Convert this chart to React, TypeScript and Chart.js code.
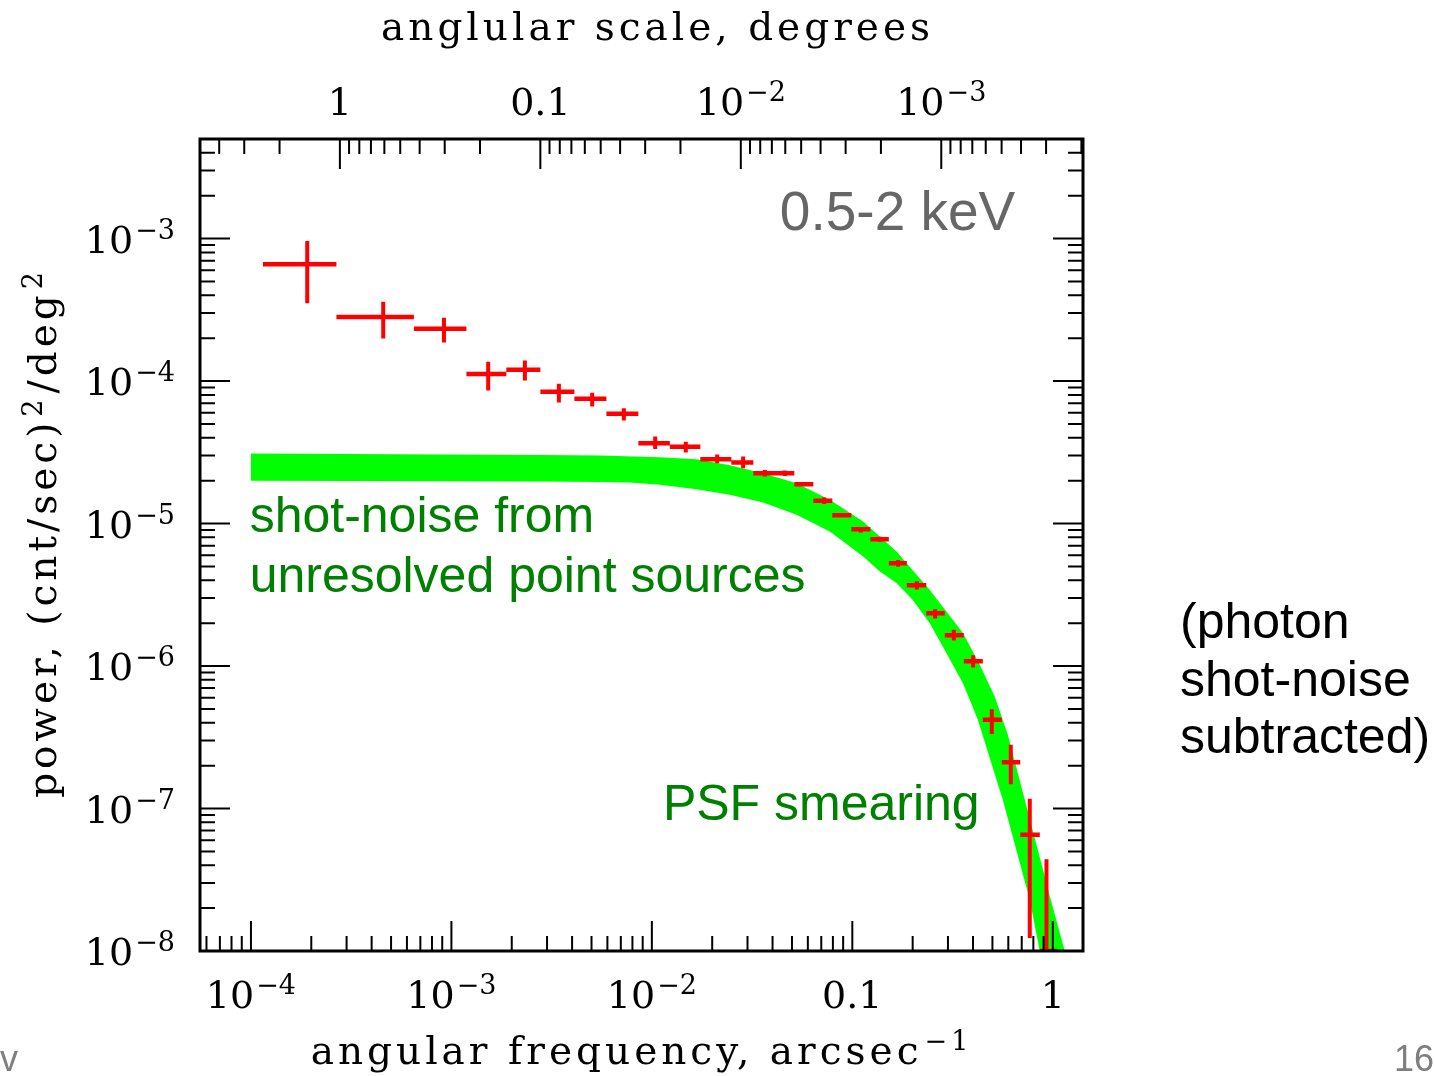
import { useEffect, useRef } from 'react';
import { Chart, registerables } from 'chart.js';

Chart.register(...registerables);

// ---------- data ----------
// angular frequency bins, arcsec^-1
const binLow = [1.148e-4, 2.669e-4, 6.5e-4, 1.188e-3, 1.88e-3, 2.779e-3, 4.106e-3, 5.932e-3, 8.563e-3, 1.23e-2, 1.745e-2, 2.491e-2, 3.208e-2, 4.06e-2, 5.136e-2, 6.389e-2, 7.948e-2, 9.886e-2, 0.123, 0.1521, 0.187, 0.2338, 0.2892, 0.3598, 0.4476, 0.5567, 0.6884, 0.8615];
const binHigh = [2.669e-4, 6.5e-4, 1.188e-3, 1.88e-3, 2.779e-3, 4.106e-3, 5.932e-3, 8.563e-3, 1.23e-2, 1.745e-2, 2.491e-2, 3.208e-2, 4.06e-2, 5.136e-2, 6.389e-2, 7.948e-2, 9.886e-2, 0.123, 0.1521, 0.187, 0.2338, 0.2892, 0.3598, 0.4476, 0.5567, 0.6884, 0.8615, 1.047];
const freq = [1.909e-4, 4.57e-4, 9.18e-4, 1.526e-3, 2.326e-3, 3.437e-3, 5.038e-3, 7.25e-3, 1.039e-2, 1.477e-2, 2.117e-2, 2.853e-2, 3.662e-2, 4.607e-2, 5.728e-2, 7.235e-2, 8.862e-2, 0.1103, 0.1372, 0.1692, 0.2098, 0.2588, 0.3208, 0.4004, 0.4964, 0.6173, 0.7677, 0.9302];
// power, (cnt/sec)^2/deg^2
const power = [6.61e-4, 2.822e-4, 2.325e-4, 1.123e-4, 1.199e-4, 8.4e-5, 7.5e-5, 5.89e-5, 3.666e-5, 3.453e-5, 2.83e-5, 2.68e-5, 2.258e-5, 2.258e-5, 1.89e-5, 1.443e-5, 1.145e-5, 9.13e-6, 7.77e-6, 5.27e-6, 3.695e-6, 2.35e-6, 1.647e-6, 1.082e-6, 4.19e-7, 2.116e-7, 6.54e-8, 1.0e-8];
const powerHigh = [9.63e-4, 3.61e-4, 2.777e-4, 1.364e-4, 1.393e-4, 9.56e-5, 8.27e-5, 6.45e-5, 4.08e-5, 3.745e-5, 3.05e-5, 2.95e-5, 2.38e-5, 2.36e-5, 1.946e-5, 1.522e-5, 1.179e-5, 9.43e-6, 8.07e-6, 5.56e-6, 3.93e-6, 2.507e-6, 1.795e-6, 1.192e-6, 4.98e-7, 2.8e-7, 1.17e-7, 4.41e-8];
const powerLow = [3.52e-4, 1.987e-4, 1.863e-4, 8.58e-5, 1.008e-4, 7.07e-5, 6.63e-5, 5.28e-5, 3.33e-5, 3.15e-5, 2.65e-5, 2.447e-5, 2.137e-5, 2.16e-5, 1.84e-5, 1.374e-5, 1.114e-5, 8.64e-6, 7.44e-6, 4.97e-6, 3.45e-6, 2.154e-6, 1.51e-6, 9.76e-7, 3.34e-7, 1.483e-7, 1.232e-8, 1.0e-8];

// shot-noise + PSF model band (upper and lower edges)
const bandUpperFreq = [1e-4, 2.763e-3, 5.502e-3, 1.096e-2, 1.671e-2, 2.449e-2, 3.59e-2, 5.268e-2, 7.72e-2, 0.1132, 0.1661, 0.2434, 0.3557, 0.4325, 0.5138, 0.5966, 0.725, 0.8418, 0.9772, 1.148];
const bandUpperPower = [3.1e-5, 3.034e-5, 3.0e-5, 2.914e-5, 2.831e-5, 2.561e-5, 2.258e-5, 1.92e-5, 1.467e-5, 1.033e-5, 6.36e-6, 3.42e-6, 1.71e-6, 1.019e-6, 6.08e-7, 3.29e-7, 1.151e-7, 5.13e-8, 2.29e-8, 1.0e-8];
const bandLowerFreq = [1e-4, 2.763e-3, 5.502e-3, 7.77e-3, 1.096e-2, 1.671e-2, 2.449e-2, 3.59e-2, 5.268e-2, 7.72e-2, 0.1132, 0.1372, 0.1661, 0.2002, 0.2434, 0.295, 0.3557, 0.3855, 0.4227, 0.563, 0.7677, 0.861];
const bandLowerPower = [2.0e-5, 1.977e-5, 1.955e-5, 1.94e-5, 1.869e-5, 1.744e-5, 1.59e-5, 1.404e-5, 1.151e-5, 8.79e-6, 5.87e-6, 4.6e-6, 3.82e-6, 2.91e-6, 2.0e-6, 1.232e-6, 7.59e-7, 5.79e-7, 4.19e-7, 1.151e-7, 2.29e-8, 1.0e-8];

// ticks (^{...} marks a superscript)
const xTickValues = [1e-4, 1e-3, 1e-2, 0.1, 1];
const xTickLabels = ['10^{−4}', '10^{−3}', '10^{−2}', '0.1', '1'];
const yTickValues = [1e-3, 1e-4, 1e-5, 1e-6, 1e-7, 1e-8];
const yTickLabels = ['10^{−3}', '10^{−4}', '10^{−5}', '10^{−6}', '10^{−7}', '10^{−8}'];
const degTickValues = [1, 0.1, 0.01, 0.001];
const degTickLabels = ['1', '0.1', '10^{−2}', '10^{−3}'];

// axis titles
const xTitle = 'angular frequency, arcsec^{−1}';
const topTitle = 'anglular scale, degrees';
const yTitle = 'power, (cnt/sec)^{2}/deg^{2}';

// axis ranges
const X_MIN = 5.57e-5;
const X_MAX = 1.415;
const Y_MIN = 1e-8;
const Y_MAX = 5.0e-3;
const ARCSEC_PER_DEG = 3600;

// annotation anchors (data coordinates)
const energyLabel = { text: '0.5-2 keV', x: 0.0435, y: 1.14e-3 };
const shotLabel = { lines: ['shot-noise from', 'unresolved point sources'], x: 9.85e-5, y: 8.79e-6 };
const psfLabel = { text: 'PSF smearing', x: 1.135e-2, y: 8.33e-8 };
const sideNote = ['(photon', 'shot-noise', 'subtracted)'];

// ---------- layout / style ----------
const W = 1434;
const H = 1076;
const SERIF = '"DejaVu Serif", serif';
const SANS = '"Liberation Sans", Arial, sans-serif';

function labelFor(values: number[], labels: string[], v: number) {
  const i = values.findIndex((t) => Math.abs(Math.log10(t) - Math.log10(v)) < 1e-6);
  return i >= 0 ? labels[i] : '';
}

function parseRich(s: string) {
  const parts: { t: string; sup: boolean }[] = [];
  const re = /\^\{([^}]*)\}/g;
  let last = 0;
  let m: RegExpExecArray | null;
  while ((m = re.exec(s))) {
    if (m.index > last) parts.push({ t: s.slice(last, m.index), sup: false });
    parts.push({ t: m[1], sup: true });
    last = m.index + m[0].length;
  }
  if (last < s.length) parts.push({ t: s.slice(last), sup: false });
  return parts;
}

// draws text with superscripts; y is the baseline
function drawRich(ctx: CanvasRenderingContext2D, s: string, x: number, y: number, align: 'left' | 'center' | 'right', size: number, spacing = 0) {
  const parts = parseRich(s);
  const supSize = Math.round(size * 0.7);
  const raise = size * 0.36;
  (ctx as any).letterSpacing = `${spacing}px`;
  const widths = parts.map((p) => {
    ctx.font = `${p.sup ? supSize : size}px ${SERIF}`;
    return ctx.measureText(p.t).width;
  });
  const gap = 2;
  const total = widths.reduce((a, b) => a + b, 0) + gap * (parts.length - 1);
  let cx = align === 'left' ? x : align === 'center' ? x - total / 2 : x - total;
  ctx.textAlign = 'left';
  ctx.textBaseline = 'alphabetic';
  parts.forEach((p, i) => {
    ctx.font = `${p.sup ? supSize : size}px ${SERIF}`;
    ctx.fillText(p.t, cx, p.sup ? y - raise : y);
    cx += widths[i] + gap;
  });
  (ctx as any).letterSpacing = '0px';
}

const decorPlugin = {
  id: 'decor',
  afterDatasetsDraw(chart: any) {
    const { ctx, chartArea: a, scales } = chart;
    const xs = scales.x;
    const ys = scales.y;
    const ts = scales.x2;
    const MAJOR = 30;
    const MINOR = 15;
    ctx.save();
    ctx.strokeStyle = '#000';
    ctx.lineWidth = 2;
    ctx.lineCap = 'butt';
    ctx.beginPath();
    for (let n = -10; n <= 0; n++) {
      for (let k = 1; k <= 9; k++) {
        const v = k * Math.pow(10, n);
        const py = ys.getPixelForValue(v);
        if (py < a.top + 1.5 || py > a.bottom - 1.5) continue;
        const len = k === 1 ? MAJOR : MINOR;
        ctx.moveTo(a.left, py);
        ctx.lineTo(a.left + len, py);
        ctx.moveTo(a.right, py);
        ctx.lineTo(a.right - len, py);
      }
    }
    for (let n = -6; n <= 1; n++) {
      for (let k = 1; k <= 9; k++) {
        const v = k * Math.pow(10, n);
        const px = xs.getPixelForValue(v);
        if (px < a.left + 1.5 || px > a.right - 1.5) continue;
        const len = k === 1 ? MAJOR : MINOR;
        ctx.moveTo(px, a.bottom);
        ctx.lineTo(px, a.bottom - len);
      }
    }
    for (let n = -5; n <= 1; n++) {
      for (let k = 1; k <= 9; k++) {
        const v = k * Math.pow(10, n);
        const px = ts.getPixelForValue(v);
        if (px < a.left + 1.5 || px > a.right - 1.5) continue;
        const len = k === 1 ? MAJOR : MINOR;
        ctx.moveTo(px, a.top);
        ctx.lineTo(px, a.top + len);
      }
    }
    ctx.stroke();
    ctx.lineWidth = 3;
    ctx.strokeRect(a.left, a.top, a.right - a.left, a.bottom - a.top);
    ctx.restore();
  },
  afterDraw(chart: any) {
    const { ctx, chartArea: a, scales } = chart;
    const xs = scales.x;
    const ys = scales.y;
    const ts = scales.x2;
    ctx.save();
    ctx.fillStyle = '#000';

    // tick labels, positioned by the scales
    const TICK = 38;
    xs.ticks.forEach((t: any) => drawRich(ctx, labelFor(xTickValues, xTickLabels, t.value), xs.getPixelForValue(t.value), a.bottom + 57, 'center', TICK));
    ts.ticks.forEach((t: any) => drawRich(ctx, labelFor(degTickValues, degTickLabels, t.value), ts.getPixelForValue(t.value), a.top - 24, 'center', TICK));
    ys.ticks.forEach((t: any) => drawRich(ctx, labelFor(yTickValues, yTickLabels, t.value), a.left - 25, ys.getPixelForValue(t.value) + 14, 'right', TICK));

    // axis titles
    drawRich(ctx, topTitle, (a.left + a.right) / 2 + 16, 40, 'center', 39, 4);
    drawRich(ctx, xTitle, (a.left + a.right) / 2, 1064, 'center', 39, 4);
    ctx.save();
    ctx.translate(56, (a.top + a.bottom) / 2 - 12);
    ctx.rotate(-Math.PI / 2);
    drawRich(ctx, yTitle, 0, 0, 'center', 39, 4);
    ctx.restore();

    // in-plot labels
    ctx.textAlign = 'left';
    ctx.textBaseline = 'alphabetic';
    ctx.fillStyle = '#666666';
    ctx.font = `55px ${SANS}`;
    ctx.fillText(energyLabel.text, xs.getPixelForValue(energyLabel.x), ys.getPixelForValue(energyLabel.y));

    ctx.fillStyle = '#008000';
    ctx.font = `50px ${SANS}`;
    const sx = xs.getPixelForValue(shotLabel.x);
    const sy = ys.getPixelForValue(shotLabel.y);
    shotLabel.lines.forEach((t, i) => ctx.fillText(t, sx, sy + i * 60));
    ctx.fillText(psfLabel.text, xs.getPixelForValue(psfLabel.x), ys.getPixelForValue(psfLabel.y));

    // side note
    ctx.fillStyle = '#000';
    ctx.font = `50px ${SANS}`;
    sideNote.forEach((t, i) => ctx.fillText(t, 1180, 638 + i * 57.5));

    // slide footer remnants
    ctx.fillStyle = '#7f7f7f';
    ctx.font = `36px ${SANS}`;
    ctx.fillText('v', 0, 1071);
    ctx.textAlign = 'right';
    ctx.fillText('16', W, 1071);
    ctx.restore();
  },
};

export default function App() {
  const ref = useRef<HTMLCanvasElement>(null);

  useEffect(() => {
    const canvas = ref.current;
    if (!canvas) return;

    const hSeg: { x: number; y: number }[] = [];
    const vSeg: { x: number; y: number }[] = [];
    freq.forEach((f, i) => {
      hSeg.push({ x: binLow[i], y: power[i] }, { x: binHigh[i], y: power[i] }, { x: NaN, y: NaN });
      vSeg.push({ x: f, y: powerLow[i] }, { x: f, y: powerHigh[i] }, { x: NaN, y: NaN });
    });
    const band: { x: number; y: number }[] = [];
    bandUpperFreq.forEach((f, i) => band.push({ x: f, y: bandUpperPower[i] }));
    for (let i = bandLowerFreq.length - 1; i >= 0; i--) band.push({ x: bandLowerFreq[i], y: bandLowerPower[i] });

    const hiddenTicks = { display: false };
    const noGrid = { display: false, drawTicks: false };

    const chart = new Chart(canvas, {
      type: 'scatter',
      data: {
        datasets: [
          {
            data: hSeg,
            showLine: true,
            borderColor: '#ff0000',
            borderWidth: 4.5,
            borderCapStyle: 'butt',
            pointRadius: 0,
            spanGaps: false,
            order: 0,
          } as any,
          {
            data: vSeg,
            showLine: true,
            borderColor: '#ff0000',
            borderWidth: 4,
            borderCapStyle: 'butt',
            pointRadius: 0,
            spanGaps: false,
            order: 1,
          } as any,
          {
            data: band,
            showLine: true,
            borderWidth: 0,
            borderColor: 'rgba(0,0,0,0)',
            backgroundColor: '#00ff00',
            fill: 'shape',
            pointRadius: 0,
            order: 2,
          } as any,
        ],
      },
      options: {
        animation: false,
        responsive: false,
        devicePixelRatio: 1,
        events: [],
        layout: { padding: 0 },
        plugins: { legend: { display: false }, tooltip: { enabled: false } },
        scales: {
          x: {
            type: 'logarithmic',
            position: 'bottom',
            min: X_MIN,
            max: X_MAX,
            grid: noGrid,
            border: { display: false },
            ticks: hiddenTicks,
            afterBuildTicks: (s: any) => {
              s.ticks = xTickValues.map((v) => ({ value: v }));
            },
            afterFit: (s: any) => {
              s.height = 125;
            },
          },
          x2: {
            type: 'logarithmic',
            position: 'top',
            reverse: true,
            min: 1 / (ARCSEC_PER_DEG * X_MAX),
            max: 1 / (ARCSEC_PER_DEG * X_MIN),
            grid: noGrid,
            border: { display: false },
            ticks: hiddenTicks,
            afterBuildTicks: (s: any) => {
              s.ticks = degTickValues.map((v) => ({ value: v }));
            },
            afterFit: (s: any) => {
              s.height = 139;
            },
          },
          y: {
            type: 'logarithmic',
            position: 'left',
            min: Y_MIN,
            max: Y_MAX,
            grid: noGrid,
            border: { display: false },
            ticks: hiddenTicks,
            afterBuildTicks: (s: any) => {
              s.ticks = yTickValues.map((v) => ({ value: v }));
            },
            afterFit: (s: any) => {
              s.width = 200;
            },
          },
          y2: {
            type: 'logarithmic',
            position: 'right',
            min: Y_MIN,
            max: Y_MAX,
            grid: noGrid,
            border: { display: false },
            ticks: hiddenTicks,
            afterFit: (s: any) => {
              s.width = 351;
            },
          },
        },
      } as any,
      plugins: [decorPlugin],
    });

    return () => chart.destroy();
  }, []);

  return (
    <div style={{ position: 'absolute', left: 0, top: 0, width: W, height: H, background: '#fff' }}>
      <canvas ref={ref} width={W} height={H} style={{ display: 'block', width: W, height: H }} />
    </div>
  );
}
